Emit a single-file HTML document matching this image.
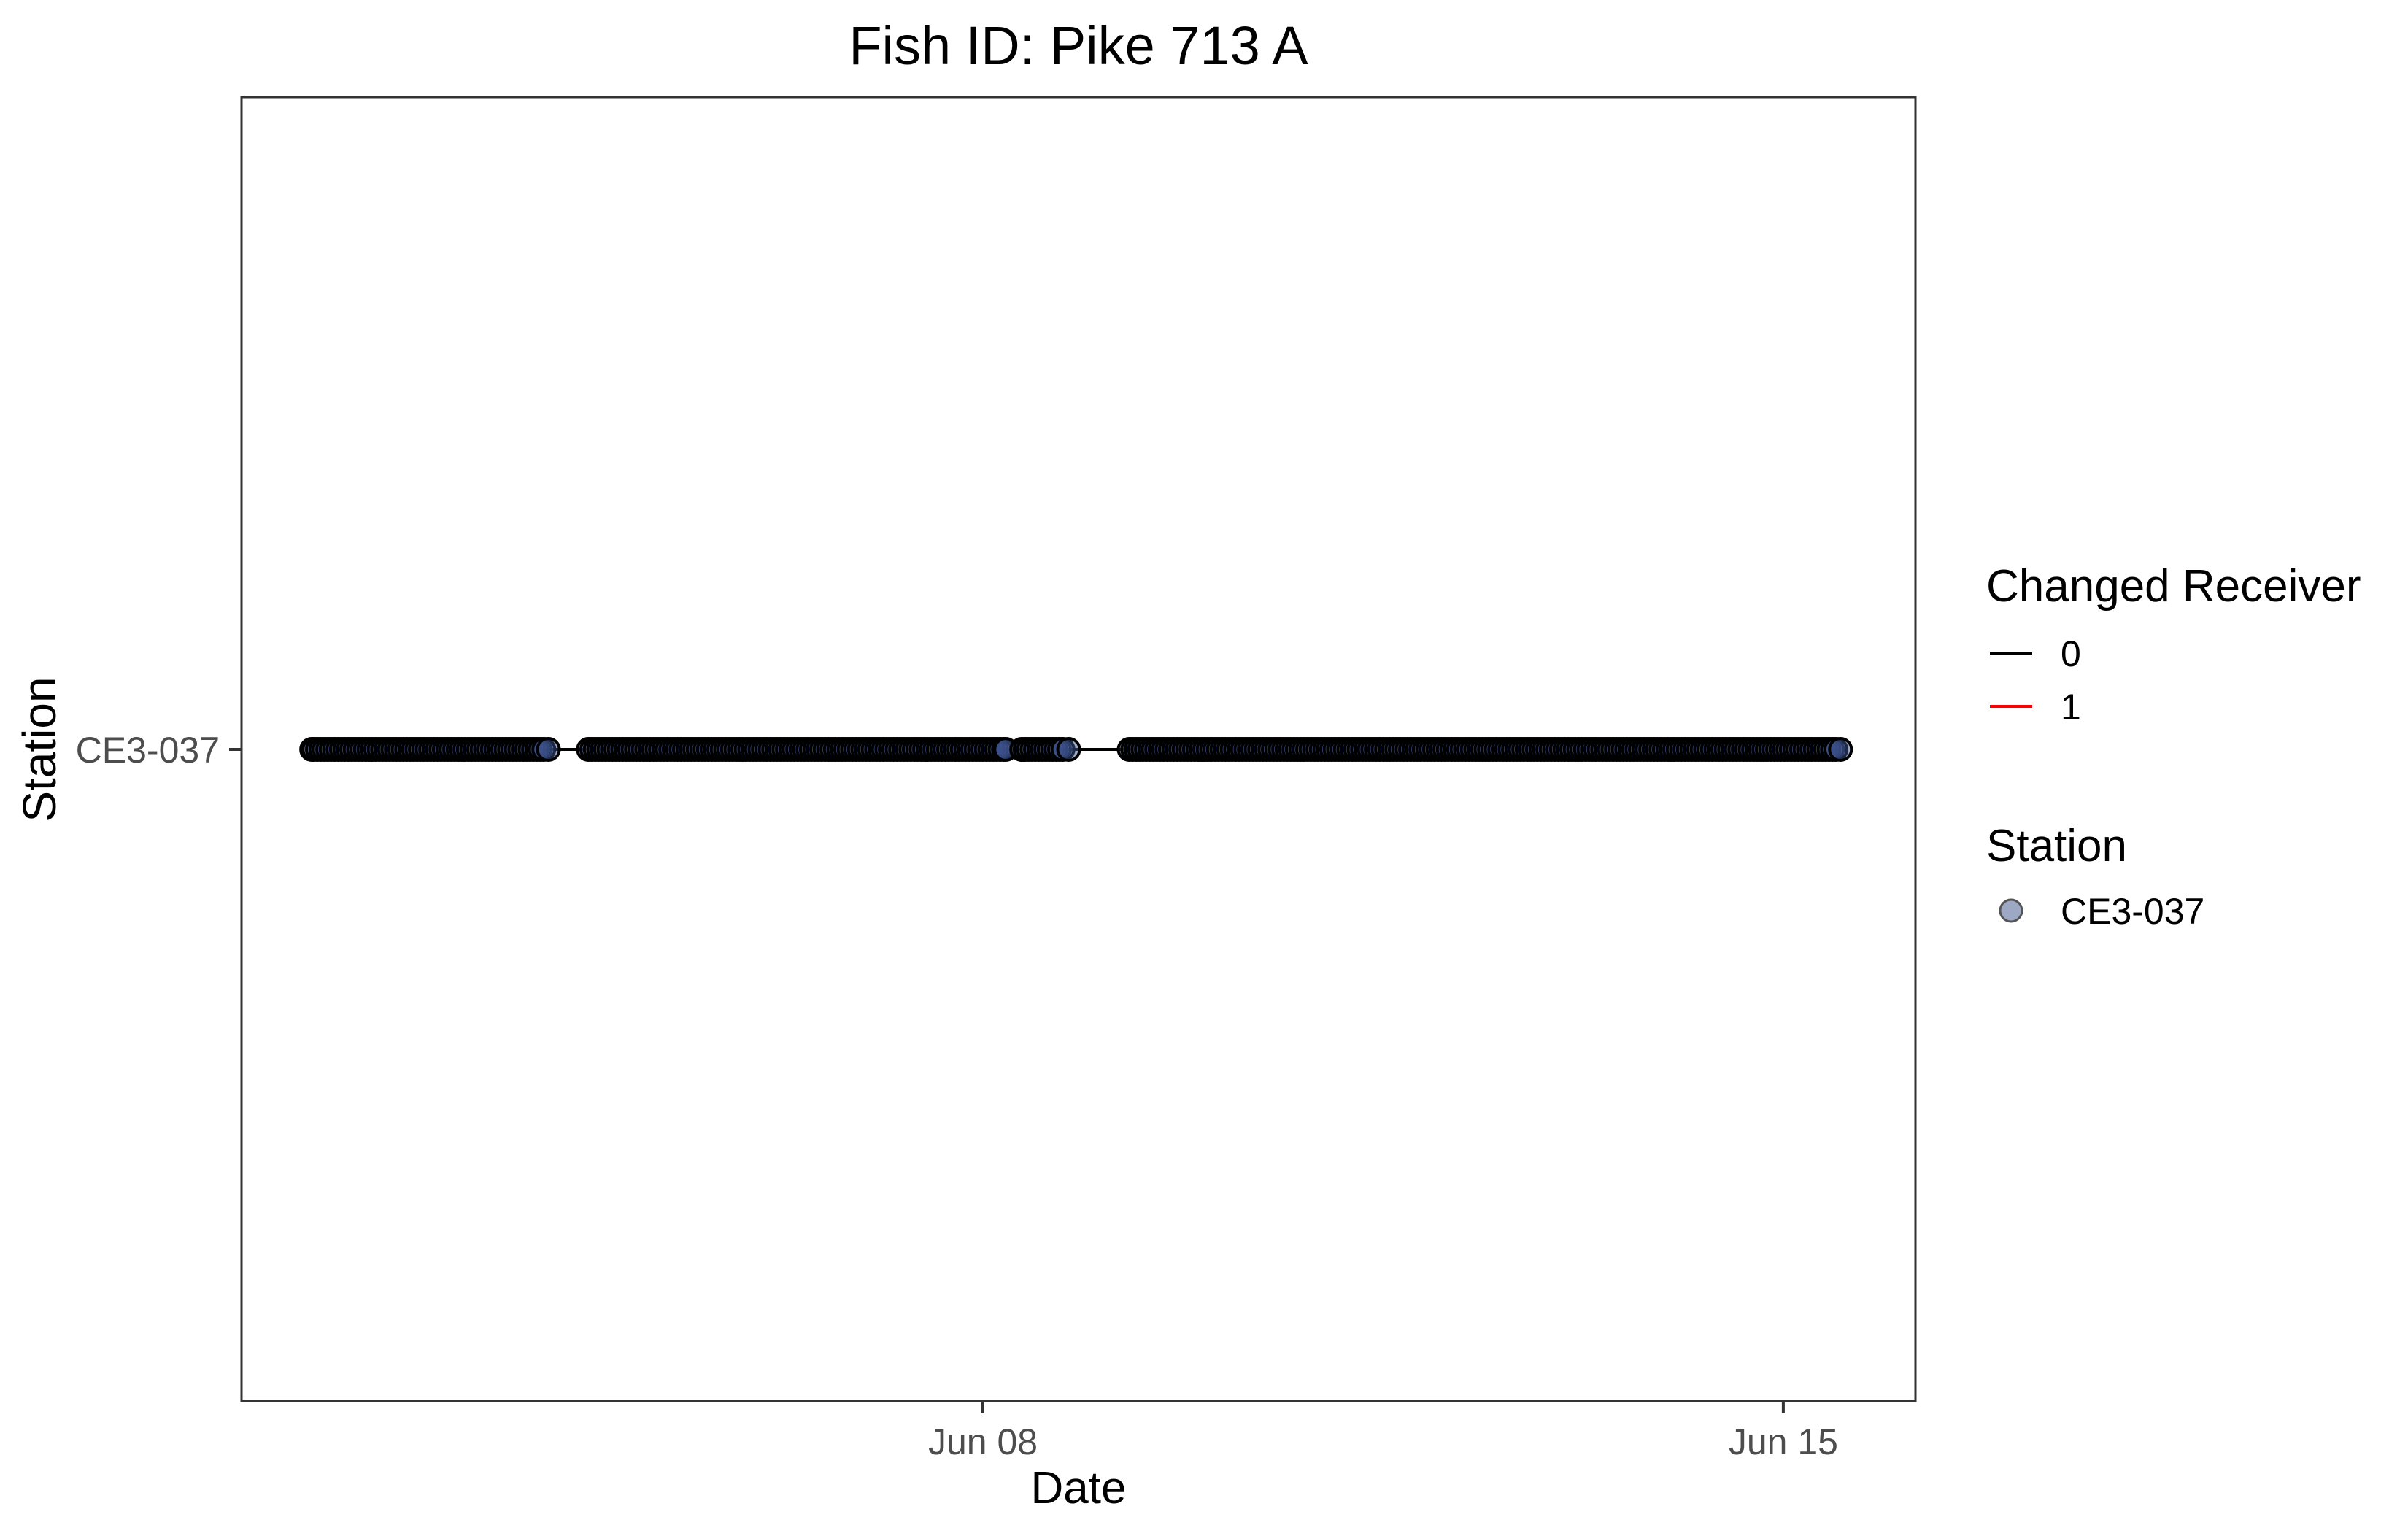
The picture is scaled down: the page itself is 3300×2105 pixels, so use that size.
<!DOCTYPE html>
<html><head><meta charset="utf-8"><style>
body{margin:0;background:#fff}
svg text{font-family:"Liberation Sans",Arial,sans-serif}
</style></head><body>
<svg id="chart" width="3300" height="2100" viewBox="0 0 3300 2100" xmlns="http://www.w3.org/2000/svg">
<rect width="3300" height="2100" fill="#fff"/>
<text x="1478" y="88" font-size="74" text-anchor="middle">Fish ID: Pike 713 A</text>
<g id="marks"></g>
<rect x="331" y="133" width="2294" height="1787" fill="none" stroke="#333" stroke-width="3"/>
<g id="axes"></g>
<text x="1478" y="2060" font-size="62" text-anchor="middle">Date</text>
<text transform="translate(76,1027) rotate(-90)" font-size="64" text-anchor="middle">Station</text>
<g>
<text x="2722" y="824" font-size="62">Changed Receiver</text>
<line x1="2727" y1="895" x2="2785" y2="895" stroke="#000" stroke-width="4"/>
<text x="2824" y="913" font-size="50">0</text>
<line x1="2727" y1="968" x2="2785" y2="968" stroke="#f00" stroke-width="4"/>
<text x="2824" y="986" font-size="50">1</text>
<text x="2722" y="1180" font-size="62">Station</text>
<circle cx="2756" cy="1248" r="15" fill="rgba(59,82,139,0.5)" stroke="#555" stroke-width="3"/>
<text x="2824" y="1266" font-size="50">CE3-037</text>
</g>
</svg>
<script>
// detection times: days relative to Jun 08 00:00
const detectionDays = [
-5.87,-5.85,-5.82,-5.79,-5.76,-5.73,-5.70,-5.67,-5.64,-5.61,-5.58,-5.55,-5.52,-5.49,-5.46,-5.43,-5.40,-5.37,-5.34,-5.31,-5.28,-5.25,-5.22,-5.19,-5.16,-5.13,-5.10,-5.07,-5.04,-5.01,-4.98,-4.95,-4.92,-4.89,-4.86,-4.83,-4.80,-4.77,-4.74,-4.71,-4.68,-4.65,-4.62,-4.59,-4.56,-4.53,-4.50,-4.47,-4.44,-4.41,-4.38,-4.35,-4.32,-4.29,-4.26,-4.23,-4.20,-4.17,-4.14,-4.11,-4.08,-4.05,-4.02,-3.99,-3.96,-3.93,-3.90,-3.87,-3.84,-3.80,
-3.45,-3.42,-3.39,-3.36,-3.33,-3.30,-3.27,-3.24,-3.21,-3.18,-3.15,-3.12,-3.09,-3.06,-3.03,-3.00,-2.97,-2.94,-2.91,-2.88,-2.85,-2.82,-2.79,-2.76,-2.73,-2.70,-2.67,-2.64,-2.61,-2.58,-2.55,-2.52,-2.49,-2.46,-2.43,-2.40,-2.37,-2.34,-2.31,-2.28,-2.25,-2.22,-2.19,-2.16,-2.13,-2.10,-2.07,-2.04,-2.01,-1.98,-1.95,-1.92,-1.89,-1.86,-1.83,-1.80,-1.77,-1.74,-1.71,-1.68,-1.65,-1.62,-1.59,-1.56,-1.53,-1.50,-1.47,-1.44,-1.41,-1.38,-1.35,-1.32,-1.29,-1.26,-1.23,-1.20,-1.17,-1.14,-1.11,-1.08,-1.05,-1.02,-0.99,-0.96,-0.93,-0.90,-0.87,-0.84,-0.81,-0.78,-0.75,-0.72,-0.69,-0.66,-0.63,-0.60,-0.57,-0.54,-0.51,-0.48,-0.45,-0.42,-0.39,-0.36,-0.33,-0.30,-0.27,-0.24,-0.21,-0.18,-0.15,-0.12,-0.09,-0.06,-0.03,0.00,0.03,0.06,0.09,0.12,0.15,0.18,0.20,
0.34,0.37,0.40,0.43,0.46,0.49,0.52,0.55,0.58,0.61,0.64,0.67,0.70,0.75,
1.28,1.31,1.34,1.37,1.40,1.43,1.46,1.49,1.52,1.55,1.58,1.61,1.64,1.67,1.70,1.73,1.76,1.79,1.82,1.85,1.88,1.91,1.94,1.97,2.00,2.03,2.06,2.09,2.12,2.15,2.18,2.21,2.24,2.27,2.30,2.33,2.36,2.39,2.42,2.45,2.48,2.51,2.54,2.57,2.60,2.63,2.66,2.69,2.72,2.75,2.78,2.81,2.84,2.87,2.90,2.93,2.96,2.99,3.02,3.05,3.08,3.11,3.14,3.17,3.20,3.23,3.26,3.29,3.32,3.35,3.38,3.41,3.44,3.47,3.50,3.53,3.56,3.59,3.62,3.65,3.68,3.71,3.74,3.77,3.80,3.83,3.86,3.89,3.92,3.95,3.98,4.01,4.04,4.07,4.10,4.13,4.16,4.19,4.22,4.25,4.28,4.31,4.34,4.37,4.40,4.43,4.46,4.49,4.52,4.55,4.58,4.61,4.64,4.67,4.70,4.73,4.76,4.79,4.82,4.85,4.88,4.91,4.94,4.97,5.00,5.03,5.06,5.09,5.12,5.15,5.18,5.21,5.24,5.27,5.30,5.33,5.36,5.39,5.42,5.45,5.48,5.51,5.54,5.57,5.60,5.63,5.66,5.69,5.72,5.75,5.78,5.81,5.84,5.87,5.90,5.93,5.96,5.99,6.02,6.05,6.08,6.11,6.14,6.17,6.20,6.23,6.26,6.29,6.32,6.35,6.38,6.41,6.44,6.47,6.50,6.53,6.56,6.59,6.62,6.65,6.68,6.71,6.74,6.77,6.80,6.83,6.86,6.89,6.92,6.95,6.98,7.01,7.04,7.07,7.10,7.13,7.16,7.19,7.22,7.25,7.28,7.31,7.34,7.37,7.40,7.43,7.46,7.50
];
const stationCategories = ["CE3-037"];
const xTickValues = [0, 7];
const xTickLabels = ["Jun 08", "Jun 15"];

const NS = "http://www.w3.org/2000/svg";
function xScale(d){ return 1347 + d * 156.7; }
function yScale(cat){ return 1027 + (stationCategories.indexOf(cat) - (stationCategories.length-1)/2) * 400; }

const marks = document.getElementById('marks');
const axes = document.getElementById('axes');
const yRow = yScale(stationCategories[0]);

for (let i = 1; i < detectionDays.length; i++) {
  const ln = document.createElementNS(NS, 'line');
  
  
  ln.setAttribute('x1', xScale(detectionDays[i-1])); ln.setAttribute('x2', xScale(detectionDays[i]));
  ln.setAttribute('y1', yRow); ln.setAttribute('y2', yRow);
  ln.setAttribute('stroke', '#000'); ln.setAttribute('stroke-width', '4');
  marks.appendChild(ln);
}
detectionDays.forEach(d => {
  const c = document.createElementNS(NS, 'circle');
  
  
  c.setAttribute('cx', xScale(d)); c.setAttribute('cy', yRow); c.setAttribute('r', 15);
  c.setAttribute('fill', 'rgba(59,82,139,0.5)'); c.setAttribute('stroke', '#000'); c.setAttribute('stroke-width', '4');
  marks.appendChild(c);
});

xTickValues.forEach((v, i) => {
  const x = xScale(v);
  const t = document.createElementNS(NS, 'line');
  
  
  t.setAttribute('x1', x); t.setAttribute('x2', x); t.setAttribute('y1', 1920); t.setAttribute('y2', 1937);
  t.setAttribute('stroke', '#333'); t.setAttribute('stroke-width', '4');
  axes.appendChild(t);
  const lb = document.createElementNS(NS, 'text');
  
  
  lb.setAttribute('x', x); lb.setAttribute('y', 1993);
  lb.setAttribute('font-size', '50'); lb.setAttribute('fill', '#4d4d4d'); lb.setAttribute('text-anchor', 'middle');
  lb.textContent = xTickLabels[i];
  axes.appendChild(lb);
});
stationCategories.forEach(cat => {
  const y = yScale(cat);
  const t = document.createElementNS(NS, 'line');
  
  
  t.setAttribute('x1', 314); t.setAttribute('x2', 331); t.setAttribute('y1', y); t.setAttribute('y2', y);
  t.setAttribute('stroke', '#333'); t.setAttribute('stroke-width', '4');
  axes.appendChild(t);
  const lb = document.createElementNS(NS, 'text');
  
  
  lb.setAttribute('x', 301); lb.setAttribute('y', y + 18);
  lb.setAttribute('font-size', '50'); lb.setAttribute('fill', '#4d4d4d'); lb.setAttribute('text-anchor', 'end');
  lb.textContent = cat;
  axes.appendChild(lb);
});
</script>
</body></html>
